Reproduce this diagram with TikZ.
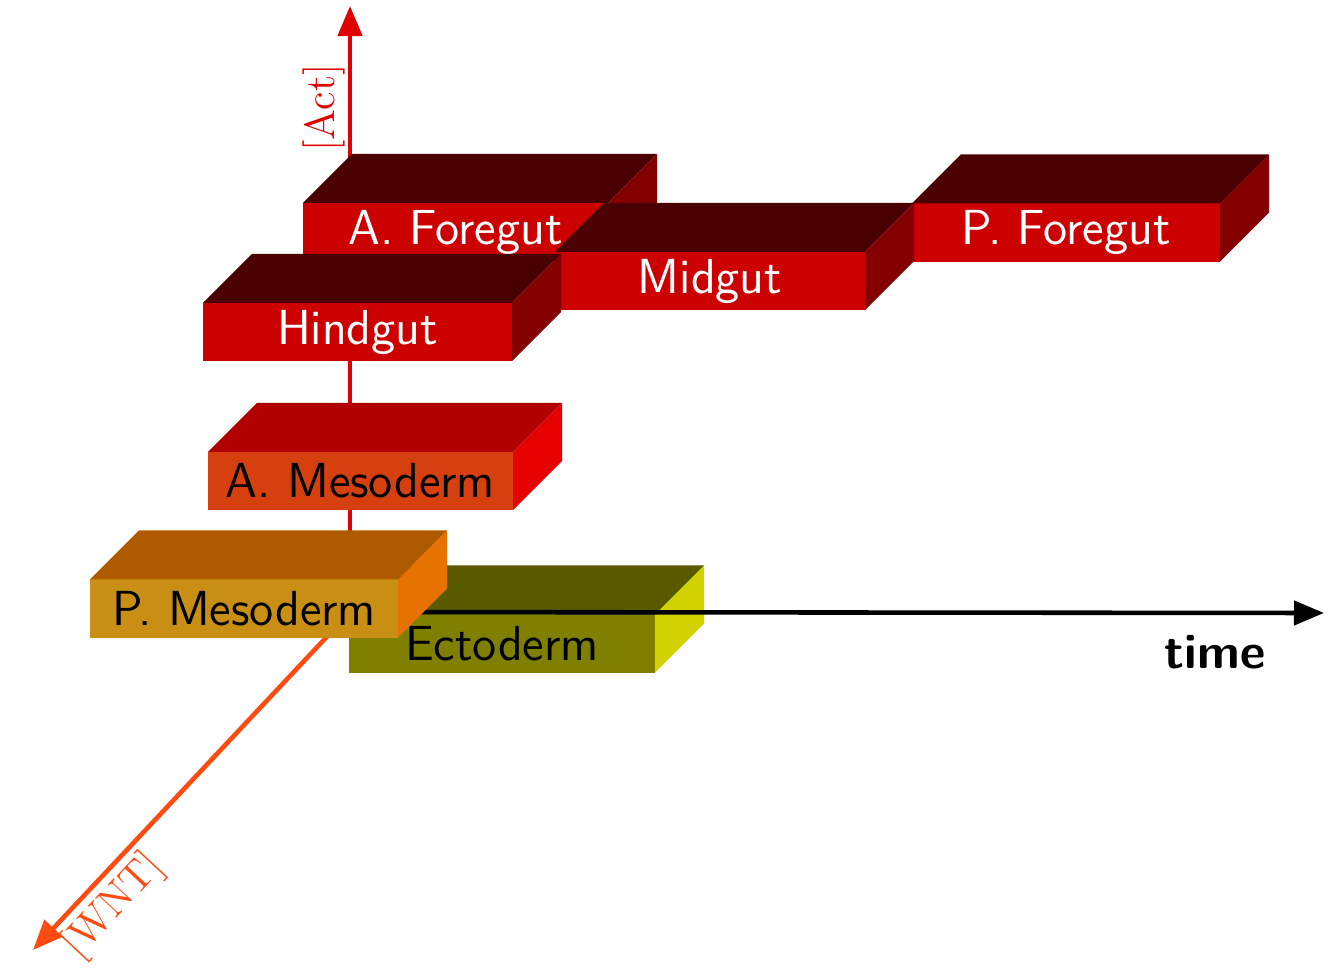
\documentclass[tikz,border=0pt]{standalone}
\usepackage{tikz}
\usetikzlibrary{arrows.meta, calc}
\definecolor{GutFront}{HTML}{CC0000}
\definecolor{GutTop}{HTML}{4A0000}
\definecolor{GutSide}{HTML}{850000}
\definecolor{AMesoFront}{HTML}{D6400F}
\definecolor{AMesoTop}{HTML}{B00000}
\definecolor{AMesoSide}{HTML}{E60000}
\definecolor{PMesoFront}{HTML}{C98F14}
\definecolor{PMesoTop}{HTML}{B05A00}
\definecolor{PMesoSide}{HTML}{E67300}
\definecolor{EctoFront}{HTML}{7F7F00}
\definecolor{EctoTop}{HTML}{5A5A00}
\definecolor{EctoSide}{HTML}{D2D200}
\definecolor{ActRed}{HTML}{E00000}
\definecolor{WntOrange}{HTML}{FF4A12}
\tikzset{slabfront/.style={rectangle, inner sep=0pt, outer sep=0pt,
         minimum height=0.58cm, font=\sffamily\fontsize{14}{16}\selectfont}}
% slab: name, centre, width, front, top, side, text colour, label
\newcommand{\slab}[8]{%
  \node[slabfront, fill=#4, text=#7, minimum width=#3] (#1) at #2 {#8};
  \fill[#5] (#1.north west) -- ++(49,-49) -- ($(#1.north east)+(49,-49)$) -- (#1.north east) -- cycle;
  \fill[#6] (#1.north east) -- ++(49,-49) -- ($(#1.south east)+(49,-49)$) -- (#1.south east) -- cycle;
}

\begin{document}
\begin{tikzpicture}[x=0.01cm, y=-0.01cm]
    \useasboundingbox (0,0) rectangle (1336,979);

    % Axes
    \coordinate (origin) at (350,612);
    \coordinate (acttip) at (350,6);
    \coordinate (wnttip) at (33,950);
    \coordinate (timetip) at (1324,613);
    \draw[-{Triangle[length=0.3cm, width=0.24cm]}, line width=1.3pt, ActRed] (origin) -- (acttip);
    \draw[-{Triangle[length=0.3cm, width=0.24cm]}, line width=1.3pt, WntOrange] (origin) -- (wnttip);
    \node[rotate=90, text=ActRed, font=\fontsize{12}{14}\selectfont] (actlabel) at (324,108) {[Act]};
    \node[rotate=47, text=WntOrange, font=\fontsize{12}{14}\selectfont] (wntlabel) at (114,906) {[WNT]};

    % Slabs, back to front
    \slab{afore}{(455.5,232)}{3.05cm}{GutFront}{GutTop}{GutSide}{white}{A. Foregut}
    \slab{pfore}{(1066,232.5)}{3.08cm}{GutFront}{GutTop}{GutSide}{white}{P. Foregut}
    \slab{midgut}{(710,281)}{3.10cm}{GutFront}{GutTop}{GutSide}{white}{Midgut}
    \slab{hindgut}{(357.5,332)}{3.09cm}{GutFront}{GutTop}{GutSide}{white}{Hindgut}
    \slab{ameso}{(360.5,481)}{3.05cm}{AMesoFront}{AMesoTop}{AMesoSide}{black}{A. Mesoderm}
    \slab{ecto}{(502,643.5)}{3.06cm}{EctoFront}{EctoTop}{EctoSide}{black}{Ectoderm}

    % Time axis
    \draw[-{Triangle[length=0.3cm, width=0.24cm]}, line width=1.3pt, black] (origin) -- (timetip);
    \node[font=\sffamily\bfseries\fontsize{14}{16}\selectfont] (timelabel) at (1215,652) {time};

    \slab{pmeso}{(244,608.5)}{3.08cm}{PMesoFront}{PMesoTop}{PMesoSide}{black}{P. Mesoderm}
\end{tikzpicture}
\end{document}
